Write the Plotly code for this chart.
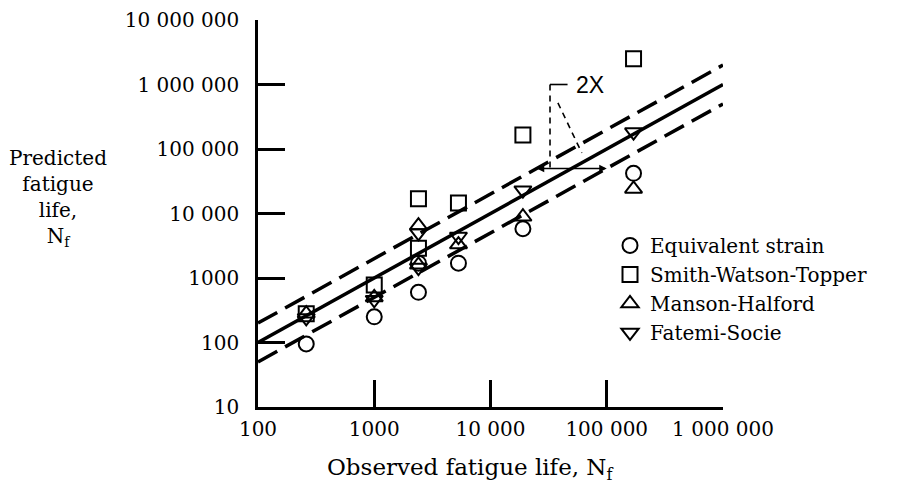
import numpy as np
import plotly.graph_objects as go

# ---------------- data ----------------
observed_life = [260, 1000, 2400, 2400, 5300, 19000, 170000]
equivalent_strain = [95, 250, 600, 1700, 1700, 5800, 42000]
smith_watson_topper = [280, 780, 17000, 2900, 14500, 165000, 2500000]
manson_halford = [280, 500, 6500, 1600, 3300, 8900, 24000]
fatemi_socie = [240, 460, 5000, 1450, 4400, 23000, 183000]

series_names = ["Equivalent strain", "Smith-Watson-Topper", "Manson-Halford", "Fatemi-Socie"]
series_values = [equivalent_strain, smith_watson_topper, manson_halford, fatemi_socie]
series_symbols = ["circle-open", "square-open", "triangle-up-open", "triangle-down-open"]

line_x = [100, 1000000]
band_factors = [2.0, 1.0, 0.5]

x_tickvals = [100, 1000, 10000, 100000, 1000000]
x_ticktext = ["100", "1000", "10 000", "100 000", "1 000 000"]
y_tickvals = [10, 100, 1000, 10000, 100000, 1000000, 10000000]
y_ticktext = ["10", "100", "1000", "10 000", "100 000", "1 000 000", "10 000 000"]

# 2X annotation geometry (data units)
marker_x = 32500
marker_top = 1000000
arrow_level = 50000
hook_end_x = 46000
diag_start = (38000, 520000)
diag_end = (61000, 87000)
label_x = 52000

SERIF = "DejaVu Serif"

fig = go.Figure()

# bands
for f in band_factors:
    fig.add_trace(go.Scatter(
        x=line_x, y=[v * f for v in line_x], mode="lines",
        line=dict(color="black", width=3.5, dash="solid" if f == 1.0 else "22px,9px"),
        showlegend=False, hoverinfo="skip"))

# 2X helper lines
fig.add_trace(go.Scatter(x=[marker_x, marker_x], y=[marker_top, arrow_level], mode="lines",
                         line=dict(color="black", width=1.6, dash="6px,5px"),
                         showlegend=False, hoverinfo="skip"))
fig.add_trace(go.Scatter(x=[marker_x, hook_end_x], y=[marker_top, marker_top], mode="lines",
                         line=dict(color="black", width=1.6),
                         showlegend=False, hoverinfo="skip"))
fig.add_trace(go.Scatter(x=[diag_start[0], diag_end[0]], y=[diag_start[1], diag_end[1]], mode="lines",
                         line=dict(color="black", width=1.6, dash="6px,5px"),
                         showlegend=False, hoverinfo="skip"))

# data series
for name, vals, sym in zip(series_names, series_values, series_symbols):
    fig.add_trace(go.Scatter(
        x=observed_life, y=vals, mode="markers", name=name,
        marker=dict(symbol=sym, size=15, color="black", line=dict(color="black", width=2))))

annotations = [
    dict(text="Predicted<br>fatigue<br>life,<br>N<sub>f</sub>", xref="paper", yref="paper",
         x=-0.43, y=0.54, xanchor="center", yanchor="middle", showarrow=False,
         font=dict(family=SERIF, size=20, color="black")),
    dict(text="Observed fatigue life, N<sub>f</sub>", xref="paper", yref="paper",
         x=0.456, y=-0.16, xanchor="center", yanchor="middle", showarrow=False,
         font=dict(family=SERIF, size=23, color="black")),
    dict(text="2X", xref="x", yref="y", x=np.log10(label_x), y=np.log10(marker_top),
         xanchor="left", yanchor="middle", showarrow=False,
         font=dict(family="Liberation Sans", size=23, color="black")),
]
for tgt in [arrow_level / 2, arrow_level * 2]:
    annotations.append(dict(text="", xref="x", yref="y", axref="x", ayref="y",
                            x=np.log10(tgt), y=np.log10(arrow_level),
                            ax=np.log10(arrow_level), ay=np.log10(arrow_level),
                            showarrow=True, arrowhead=2, arrowsize=1, arrowwidth=1.5,
                            arrowcolor="black"))

fig.update_layout(
    width=893, height=475,
    margin=dict(l=250, r=178, t=12, b=76, autoexpand=False),
    paper_bgcolor="white", plot_bgcolor="white",
    font=dict(family=SERIF, color="black"),
    showlegend=True,
    legend=dict(x=0.757, y=0.468, xanchor="left", yanchor="top",
                font=dict(family=SERIF, size=20, color="black"),
                bgcolor="rgba(0,0,0,0)"),
    annotations=annotations,
)
fig.update_xaxes(type="log", range=[2, 6], tickvals=x_tickvals, ticktext=x_ticktext,
                 automargin=False,
                 showgrid=False, zeroline=False, showline=True, linecolor="black", linewidth=2.5,
                 ticks="inside", ticklen=27, tickwidth=2.5, tickcolor="black",
                 ticklabelstandoff=2, tickfont=dict(family=SERIF, size=20, color="black"))
fig.update_yaxes(type="log", range=[1, 7], tickvals=y_tickvals, ticktext=y_ticktext,
                 automargin=False,
                 showgrid=False, zeroline=False, showline=True, linecolor="black", linewidth=2.5,
                 ticks="inside", ticklen=27, tickwidth=2.5, tickcolor="black",
                 ticklabelstandoff=12, tickfont=dict(family=SERIF, size=20, color="black"))

fig.write_html("out.html")
